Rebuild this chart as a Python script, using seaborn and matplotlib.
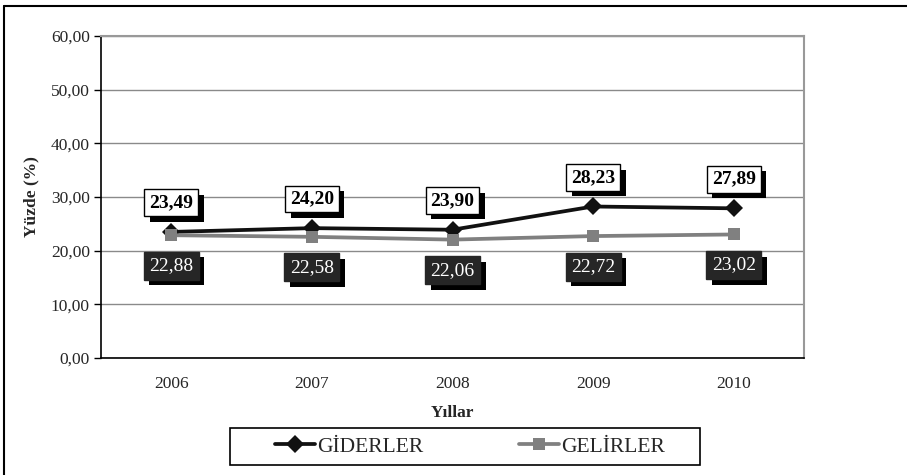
import numpy as np
import pandas as pd
import matplotlib
matplotlib.use("Agg")
import matplotlib.pyplot as plt
import matplotlib.patheffects as pe
from matplotlib.lines import Line2D
from matplotlib.patches import Rectangle
import seaborn as sns

# data
years = ["2006", "2007", "2008", "2009", "2010"]
giderler = [23.49, 24.20, 23.90, 28.23, 27.89]
gelirler = [22.88, 22.58, 22.06, 22.72, 23.02]
series_names = ["GİDERLER", "GELİRLER"]

sns.set_theme(style="white")
plt.rcParams["font.family"] = ["Liberation Serif", "DejaVu Serif"]

df = pd.DataFrame({
    "idx": list(range(len(years))) * 2,
    "value": giderler + gelirler,
    "series": [series_names[0]] * len(years) + [series_names[1]] * len(years),
})

fig = plt.figure(figsize=(9.07, 4.75), dpi=100)
ax = fig.add_axes([101 / 907, 117 / 475, 703 / 907, 322 / 475])

palette = {series_names[0]: "#111111", series_names[1]: "#808080"}
markers = {series_names[0]: "D", series_names[1]: "s"}
sns.lineplot(data=df, x="idx", y="value", hue="series", style="series",
             palette=palette, markers=markers, dashes=False, linewidth=2.7,
             markersize=9, markeredgewidth=0, ax=ax, legend=False)

ax.set_xlim(-0.5, len(years) - 0.5)
ax.set_ylim(0, 60)
ax.set_yticks(np.arange(0, 61, 10))
ax.set_yticklabels(["%d,00" % v for v in range(0, 61, 10)], fontsize=12.5)
ax.set_xticks(range(len(years)))
ax.set_xticklabels(years, fontsize=12.5)
ax.tick_params(axis="x", which="major", length=0, pad=13)
ax.set_xticks(np.arange(-0.5, len(years), 1.0), minor=True)
ax.tick_params(axis="x", which="minor", length=5, width=1, color="black", direction="out")
ax.tick_params(axis="y", length=5, width=1, color="black", direction="out", left=True, pad=3)
ax.grid(axis="y", color="#8a8a8a", linewidth=1)
ax.set_axisbelow(True)

for side in ["top", "right"]:
    ax.spines[side].set_color("#999999")
    ax.spines[side].set_linewidth(1.5)
for side in ["left", "bottom"]:
    ax.spines[side].set_color("black")
    ax.spines[side].set_linewidth(1.2)

ax.set_xlabel("Yıllar", fontsize=12.5, fontweight="bold", labelpad=9)
ax.set_ylabel("Yüzde (%)", fontsize=12.5, fontweight="bold", labelpad=8)

shadow = [pe.SimplePatchShadow(offset=(4, -4), shadow_rgbFace="black", alpha=1.0), pe.Normal()]
for i, v in enumerate(giderler):
    t = ax.annotate(("%.2f" % v).replace(".", ","), (i, v), xytext=(0, 21),
                    textcoords="offset points", ha="center", va="center",
                    fontsize=14, fontweight="bold", color="black",
                    bbox=dict(boxstyle="square,pad=0.25", fc="white", ec="black", lw=1))
    t.get_bbox_patch().set_path_effects(shadow)
for i, v in enumerate(gelirler):
    t = ax.annotate(("%.2f" % v).replace(".", ","), (i, v), xytext=(0, -22),
                    textcoords="offset points", ha="center", va="center",
                    fontsize=14, color="white",
                    bbox=dict(boxstyle="square,pad=0.28", fc="#262626", ec="#262626", lw=1))
    t.get_bbox_patch().set_path_effects(shadow)

handles = [
    Line2D([], [], color="#111111", lw=2.7, marker="D", markersize=9, markeredgewidth=0),
    Line2D([], [], color="#808080", lw=2.7, marker="s", markersize=9, markeredgewidth=0),
]
fig.legend(handles, series_names, loc="center", ncol=2,
           bbox_to_anchor=(470 / 907, 28.5 / 475),
           fontsize=15.5, frameon=False, handlelength=1.9,
           handletextpad=0.1, columnspacing=4.4, borderaxespad=0)
fig.add_artist(Rectangle((230 / 907, 10 / 475), 470 / 907, 37 / 475,
                         transform=fig.transFigure, fill=False, ec="black", lw=1.2))

# outer chart border (top and left visible)
fig.add_artist(Line2D([4 / 907, 4 / 907], [0, 1 - 6 / 475], transform=fig.transFigure, color="black", lw=1.5))
fig.add_artist(Line2D([4 / 907, 1], [1 - 6 / 475, 1 - 6 / 475], transform=fig.transFigure, color="black", lw=1.5))

fig.savefig("out.png", dpi=100)
